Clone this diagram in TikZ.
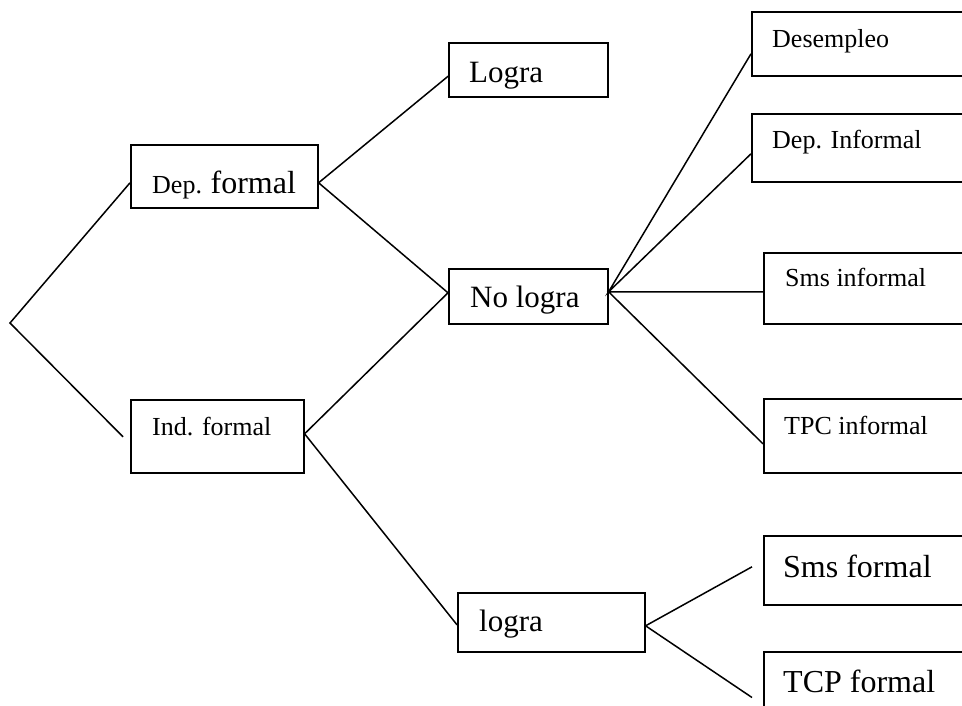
\documentclass[tikz,border=0pt]{standalone}
\usepackage{fontspec}
\setmainfont{Liberation Serif}
\begin{document}
\begin{tikzpicture}[x=1pt,y=-1pt,
  box/.style={draw, line width=1.6pt, inner sep=0pt, anchor=north west},
  lbl/.style={inner sep=0pt, anchor=base west},
  big/.style={font=\fontsize{31}{36}\selectfont},
  small/.style={font=\fontsize{26}{30}\selectfont},
  link/.style={line width=1.5pt}]
\useasboundingbox (0,0) rectangle (962,705);
\clip (0,0) rectangle (962,705);
\fill[white] (0,0) rectangle (962,705);
% boxes
\node[box, minimum width=187pt, minimum height=63pt] (dep) at (130,144) {};
\node[box, minimum width=173pt, minimum height=73pt] (ind) at (130,399) {};
\node[box, minimum width=159pt, minimum height=54pt] (lg1) at (448,42) {};
\node[box, minimum width=159pt, minimum height=55pt] (nl) at (448,268) {};
\node[box, minimum width=187pt, minimum height=59pt] (lg2) at (457,592) {};
\node[box, minimum width=230pt, minimum height=64pt] (des) at (751,11) {};
\node[box, minimum width=230pt, minimum height=68pt] (dinf) at (751,113) {};
\node[box, minimum width=230pt, minimum height=71pt] (sinf) at (763,252) {};
\node[box, minimum width=230pt, minimum height=74pt] (tinf) at (763,398) {};
\node[box, minimum width=230pt, minimum height=69pt] (sf) at (763,535) {};
\node[box, minimum width=230pt, minimum height=80pt] (tf) at (763,651) {};
% labels
\node[lbl] (tdep) at (152,193) {{\fontsize{26}{30}\selectfont Dep. }{\fontsize{32}{36}\selectfont formal}};
\node[lbl, small] (tind) at (152,435) {Ind. formal};
\node[lbl, big] (tlg1) at (469,82) {Logra};
\node[lbl, big] (tnl) at (470,307) {No logra};
\node[lbl, big] (tlg2) at (479,631) {logra};
\node[lbl, small] (tdes) at (772,47) {Desempleo};
\node[lbl, small] (tdinf) at (772,148) {Dep. Informal};
\node[lbl, small] (tsinf) at (785,286) {Sms informal};
\node[lbl, small] (ttinf) at (784,434) {TPC informal};
\node[lbl, font=\fontsize{32}{36}\selectfont] (tsf) at (783,577) {Sms formal};
\node[lbl, font=\fontsize{32}{36}\selectfont] (ttf) at (783,692) {TCP formal};
% connectors
\coordinate (root) at (10,323);
\draw[link] ([yshift=-6.5pt]dep.west) -- (root) -- ([xshift=-7pt,yshift=-0.5pt]ind.west);
\draw[link] ([yshift=-6.5pt]lg1.west) -- ([yshift=-6.5pt]dep.east) -- ([yshift=3.5pt]nl.west);
\draw[link] ([yshift=3.5pt]nl.west) -- ([yshift=2.5pt]ind.east) -- ([yshift=-2.5pt]lg2.west);
\draw[link] ([yshift=-10pt]des.west) -- ([yshift=4.5pt]nl.east) -- ([yshift=-6pt]dinf.west);
\draw[link] ([yshift=-3.5pt]sinf.west) -- ([yshift=4.5pt]nl.east) -- ([yshift=-8pt]tinf.west);
\draw[link] ([xshift=-11pt,yshift=3.5pt]sf.west) -- ([yshift=-3.5pt]lg2.east) -- ([xshift=-11pt,yshift=-3.5pt]tf.north west |- 0,694);
\end{tikzpicture}
\end{document}
